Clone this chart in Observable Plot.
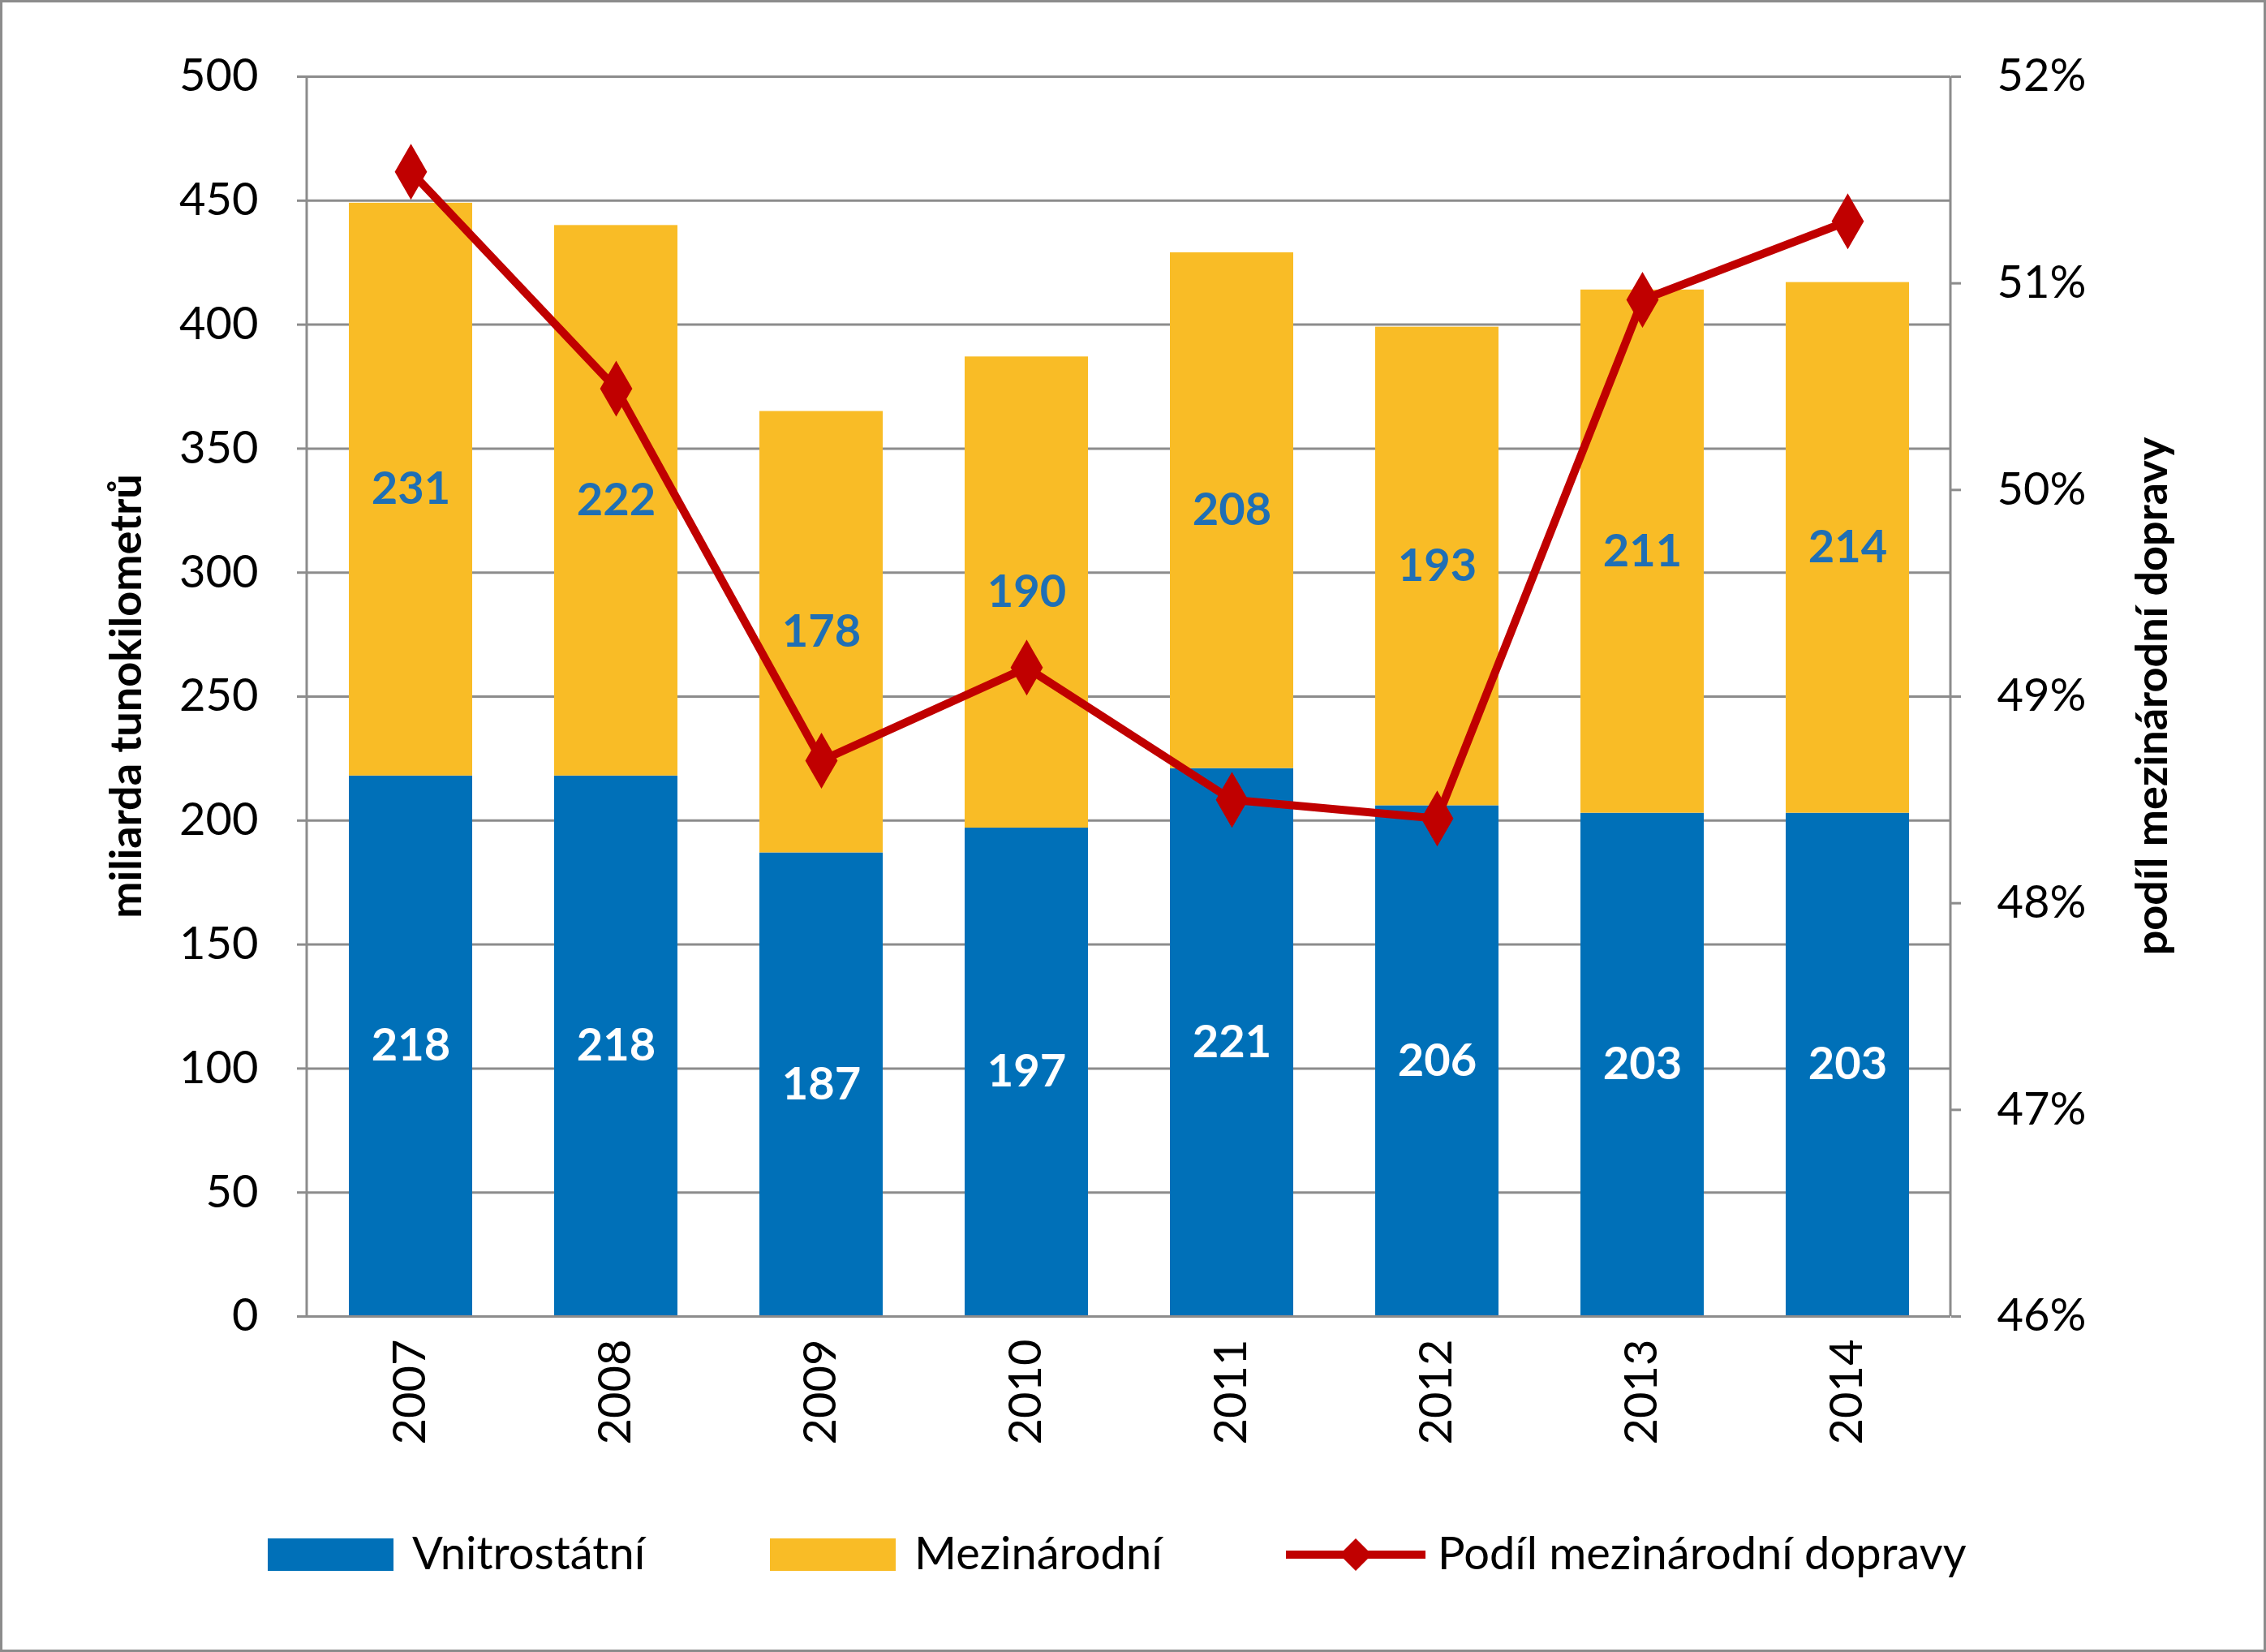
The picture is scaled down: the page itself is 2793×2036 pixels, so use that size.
<!DOCTYPE html>
<html><head><meta charset="utf-8">
<script src="https://cdn.jsdelivr.net/npm/d3@7"></script>
<script src="https://cdn.jsdelivr.net/npm/@observablehq/plot@0.6"></script>
<style>
body{margin:0;background:#fff;font-family:Lato,"Open Sans",sans-serif;}
#wrap{position:relative;width:2787px;height:2030px;border:3px solid #8c8c8c;overflow:hidden;background:#fff}
.lg{position:absolute;font-size:56px;color:#000;line-height:1}
</style></head><body>
<div id="wrap"><div id="chart"></div>
<div class="lg" style="left:327px;top:1893px;width:155px;height:40px;background:#0070B8"></div>
<div class="lg" style="left:505px;top:1882px">Vnitrostátní</div>
<div class="lg" style="left:946px;top:1893px;width:155px;height:40px;background:#F9BC26"></div>
<div class="lg" style="left:1124px;top:1882px">Mezinárodní</div>
<svg class="lg" style="left:1582px;top:1885px" width="172" height="56"><line x1="0" y1="28" x2="172" y2="28" stroke="#C00000" stroke-width="10"/><path d="M86 8 L106 28 L86 48 L66 28Z" fill="#C00000"/></svg>
<div class="lg" style="left:1769px;top:1882px">Podíl mezinárodní dopravy</div>
</div>
<script>
const years = ["2007","2008","2009","2010","2011","2012","2013","2014"];
const domestic = [218,218,187,197,221,206,203,203];
const international = [231,222,178,190,208,193,211,214];
const sharePct = [51.54,50.49,48.69,49.14,48.50,48.41,50.92,51.30];
const leftTicks = [0,50,100,150,200,250,300,350,400,450,500];
const rightTicks = [46,47,48,49,50,51,52];

const toY = p => (p-46)/6*500;
const bars = [];
years.forEach((y,i)=>{
  bars.push({year:y, series:"Vnitrostátní", value:domestic[i], mid:domestic[i]/2});
  bars.push({year:y, series:"Mezinárodní", value:international[i], mid:domestic[i]+international[i]/2});
});
const line = years.map((y,i)=>({year:y, y:toY(sharePct[i])}));

const chart = Plot.plot({
  width:2787, height:1830,
  marginTop:91, marginBottom:211, marginLeft:375, marginRight:386,
  style:{fontFamily:"Lato, 'Open Sans', sans-serif", fontSize:"56px", color:"#000", background:"#fff"},
  x:{domain:years, paddingInner:0.4, paddingOuter:0.2, label:null},
  y:{domain:[0,500], label:null},
  color:{domain:["Vnitrostátní","Mezinárodní"], range:["#0070B8","#F9BC26"]},
  marks:[
    Plot.ruleY(leftTicks.slice(1), {stroke:"#8c8c8c", strokeWidth:3}),
    Plot.barY(bars, {x:"year", y:"value", fill:"series", order:["Vnitrostátní","Mezinárodní"]}),
    Plot.ruleY([0], {stroke:"#8c8c8c", strokeWidth:3}),
    Plot.text(bars, {x:"year", y:"mid", text:"value", fontWeight:"bold", fontSize:56,
      fill:d=>d.series==="Vnitrostátní"?"#fff":"#1F6FB5"}),
    Plot.line(line, {x:"year", y:"y", stroke:"#C00000", strokeWidth:10}),
    Plot.dot(line, {x:"year", y:"y", symbol:"diamond", r:20, fill:"#C00000", stroke:"#C00000"}),
    Plot.axisY({anchor:"left", ticks:leftTicks, tickSize:12, tickPadding:48, stroke:"#8c8c8c", strokeWidth:3, label:null, fontSize:56}),
    Plot.axisY({anchor:"right", ticks:rightTicks.map(toY), tickFormat:v=>Math.round(46+v/500*6)+"%", tickSize:12, tickPadding:45, stroke:"#8c8c8c", strokeWidth:3, label:null, fontSize:56}),
    Plot.axisX({tickRotate:-90, tickSize:0, tickPadding:28, label:null, fontSize:56})
  ]
});
document.getElementById("chart").appendChild(chart);
const svg = d3.select(chart);
svg.append("line").attr("x1",375).attr("x2",375).attr("y1",91).attr("y2",1619).attr("stroke","#8c8c8c").attr("stroke-width",3);
svg.append("line").attr("x1",2401).attr("x2",2401).attr("y1",91).attr("y2",1619).attr("stroke","#8c8c8c").attr("stroke-width",3);
[["miliarda tunokilometrů",157],["podíl mezinárodní dopravy",2654]].forEach(([t,x])=>{
  svg.append("text").text(t).attr("transform",`translate(${x},855) rotate(-90)`)
    .attr("text-anchor","middle").attr("dominant-baseline","middle")
    .attr("font-weight","bold").attr("font-size",54).attr("fill","#000");
});
</script>
</body></html>
